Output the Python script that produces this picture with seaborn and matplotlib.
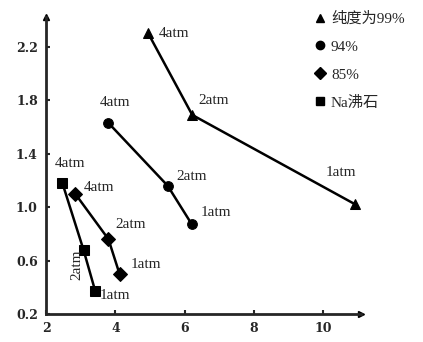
import matplotlib
matplotlib.use('Agg')
import matplotlib.pyplot as plt
from matplotlib.lines import Line2D
import pandas as pd
import seaborn as sns

# series
series = ['纯度为99%', '94%', '85%', 'Na沸石']
markers = ['^', 'o', 'D', 's']
pressures = ['4atm', '2atm', '1atm']

x_99 = [4.95, 6.22, 10.93]
y_99 = [2.30, 1.69, 1.02]
x_94 = [3.80, 5.51, 6.21]
y_94 = [1.63, 1.16, 0.87]
x_85 = [2.84, 3.80, 4.12]
y_85 = [1.10, 0.76, 0.50]
x_na = [2.47, 3.08, 3.42]
y_na = [1.18, 0.68, 0.37]

x_ticks = [2, 4, 6, 8, 10]
y_ticks = [0.2, 0.6, 1.0, 1.4, 1.8, 2.2]

# label positions for 4atm / 2atm / 1atm of each series
label_pos = [
    [(5.24, 2.30), (6.39, 1.80), (10.06, 1.26)],
    [(3.56, 1.78), (5.76, 1.23), (6.45, 0.96)],
    [(3.10, 1.15), (4.00, 0.87), (4.43, 0.57)],
    [(2.26, 1.33), (2.69, 0.57), (3.56, 0.34)],
]

xs = [x_99, x_94, x_85, x_na]
ys = [y_99, y_94, y_85, y_na]
df = pd.DataFrame({
    'x': sum(xs, []),
    'y': sum(ys, []),
    'series': [s for s in series for _ in range(3)],
})

sns.set_style('ticks')
plt.rcParams['font.family'] = ['Liberation Serif', 'Noto Sans CJK SC', 'DejaVu Sans']

fig = plt.figure(figsize=(4.23, 3.42), dpi=100)
ax = fig.add_axes([0.109, 0.082, 0.745, 0.867])

sns.lineplot(data=df, x='x', y='y', hue='series', style='series',
             markers=dict(zip(series, markers)), dashes=False, sort=False,
             palette=['black'] * 4, markersize=7, linewidth=1.8,
             markeredgecolor='black', legend=False, ax=ax)

for s, pos in enumerate(label_pos):
    for p, (tx, ty) in enumerate(pos):
        rot = 90 if (s == 3 and p == 1) else 0
        ax.text(tx, ty, pressures[p], fontsize=11, ha='left', va='center',
                rotation=rot, rotation_mode='anchor' if rot == 0 else 'default')

ax.set_xlim(2, 11.1)
ax.set_ylim(0.2, 2.42)
ax.set_xticks(x_ticks)
ax.set_yticks(y_ticks)
ax.set_xticklabels([str(t) for t in x_ticks], fontweight='bold', fontsize=9,
                   family='DejaVu Serif')
ax.set_yticklabels([f'{t:.1f}' for t in y_ticks], fontweight='bold', fontsize=9,
                   family='DejaVu Serif')
ax.tick_params(direction='in', length=3, width=1.5, pad=6)
ax.set_xlabel('')
ax.set_ylabel('')
sns.despine(ax=ax)
for sp in ['left', 'bottom']:
    ax.spines[sp].set_linewidth(2)

# arrow heads at the axis ends
ax.plot(1, 0, '>k', ms=5, transform=ax.transAxes, clip_on=False)
ax.plot(0, 1, '^k', ms=5, transform=ax.transAxes, clip_on=False)

handles = [Line2D([], [], marker=m, color='black', linestyle='none', markersize=6)
           for m in markers]
fig.legend(handles, series, loc='upper left', bbox_to_anchor=(0.721, 0.988),
           frameon=False, labelspacing=0.92, handletextpad=0.2, borderpad=0,
           handlelength=1.0, prop={'family': ['Liberation Serif', 'Noto Sans CJK SC'],
                                   'size': 11})

fig.savefig('out.png', dpi=100)
